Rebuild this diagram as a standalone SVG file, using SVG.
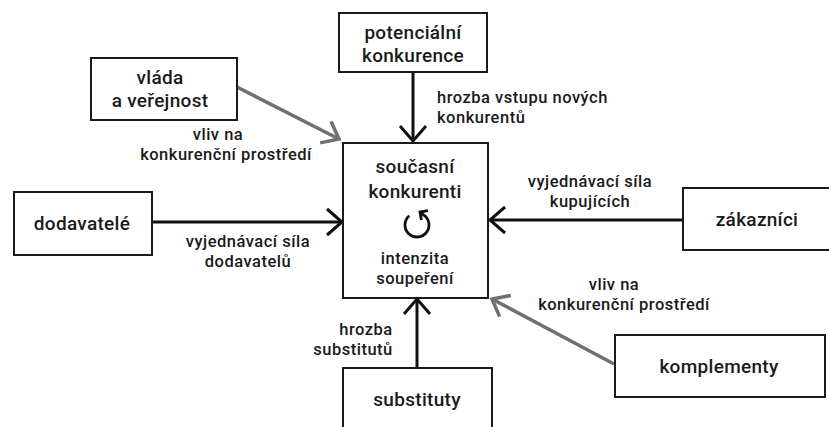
<svg xmlns="http://www.w3.org/2000/svg" width="829" height="427" viewBox="0 0 829 427">
  <style>
    .box { fill: #ffffff; stroke: #1a1a1a; stroke-width: 2; }
    .t { font-family: Roboto, "Liberation Sans", sans-serif; fill: #1a1a1a; text-anchor: middle; font-weight: 500; }
    .big { font-size: 19px; letter-spacing: 0.3px; }
    .small { font-size: 16.5px; letter-spacing: 0.5px; }
    .blk { stroke: #111111; stroke-width: 3; fill: none; }
    .gry { stroke: #707070; stroke-width: 3.5; fill: none; }
  </style>
  <defs>
    <marker id="hb" markerUnits="userSpaceOnUse" markerWidth="30" markerHeight="30" viewBox="-20 -15 24 30" refX="0" refY="0" orient="auto">
      <path d="M -15 -13 L 0 0 L -15 13" fill="none" stroke="#111111" stroke-width="3"/>
    </marker>
    <marker id="hg" markerUnits="userSpaceOnUse" markerWidth="30" markerHeight="30" viewBox="-20 -15 24 30" refX="0" refY="0" orient="auto">
      <path d="M -15 -12 L 0 0 L -15 12" fill="none" stroke="#707070" stroke-width="3.5"/>
    </marker>
  </defs>
  <rect width="829" height="427" fill="#ffffff"/>

  <g id="connectors">
    <line class="blk" x1="413" y1="72" x2="413" y2="141" marker-end="url(#hb)"/>
    <line class="blk" x1="152" y1="222" x2="342" y2="222" marker-end="url(#hb)"/>
    <line class="blk" x1="683" y1="220" x2="490" y2="220" marker-end="url(#hb)"/>
    <line class="blk" x1="417" y1="368" x2="417" y2="299" marker-end="url(#hb)"/>
    <line class="gry" x1="237" y1="87" x2="339" y2="139" marker-end="url(#hg)"/>
    <line class="gry" x1="614" y1="364" x2="492" y2="299" marker-end="url(#hg)"/>
    <text class="t small" x="437" y="103" style="text-anchor:start">hrozba vstupu nových</text>
    <text class="t small" x="437" y="123" style="text-anchor:start">konkurentů</text>
    <text class="t small" x="218" y="140">vliv na</text>
    <text class="t small" x="226" y="160">konkurenční prostředí</text>
    <text class="t small" x="590" y="187">vyjednávací síla</text>
    <text class="t small" x="590" y="207">kupujících</text>
    <text class="t small" x="248" y="247">vyjednávací síla</text>
    <text class="t small" x="248" y="267">dodavatelů</text>
    <text class="t small" x="366" y="335">hrozba</text>
    <text class="t small" x="353" y="355">substitutů</text>
    <text class="t small" x="614" y="290">vliv na</text>
    <text class="t small" x="624" y="310">konkurenční prostředí</text>
  </g>

  <g id="node-potencialni">
    <rect class="box" x="339" y="13" width="148" height="59"/>
    <text class="t big" x="413" y="39">potenciální</text>
    <text class="t big" x="413" y="62">konkurence</text>
  </g>

  <g id="node-vlada">
    <rect class="box" x="91" y="58" width="146" height="62"/>
    <text class="t big" x="160" y="84">vláda</text>
    <text class="t big" x="160" y="107">a veřejnost</text>
  </g>

  <g id="node-soucasni">
    <rect class="box" x="343" y="143" width="145" height="155"/>
    <text class="t big" x="415" y="173">současní</text>
    <text class="t big" x="415" y="198">konkurenti</text>
    <path d="M 409.3 215.8 A 12 12 0 1 0 423.9 215.2 L 420.5 212.7" fill="none" stroke="#111111" stroke-width="2.8" stroke-linejoin="round"/>
    <path d="M 428 210.6 L 420 212 L 421.4 220" fill="none" stroke="#111111" stroke-width="2.8"/>
    <text class="t small" x="415" y="264">intenzita</text>
    <text class="t small" x="415" y="284">soupeření</text>
  </g>

  <g id="node-dodavatele">
    <rect class="box" x="14" y="192" width="138" height="63"/>
    <text class="t big" x="82" y="230">dodavatelé</text>
  </g>

  <g id="node-zakaznici">
    <rect class="box" x="683" y="188" width="150" height="62"/>
    <text class="t big" x="757" y="226">zákazníci</text>
  </g>

  <g id="node-komplementy">
    <rect class="box" x="615" y="335" width="210" height="62"/>
    <text class="t big" x="719" y="373">komplementy</text>
  </g>

  <g id="node-substituty">
    <rect class="box" x="343" y="368" width="149" height="66"/>
    <text class="t big" x="417" y="406">substituty</text>
  </g>
</svg>
